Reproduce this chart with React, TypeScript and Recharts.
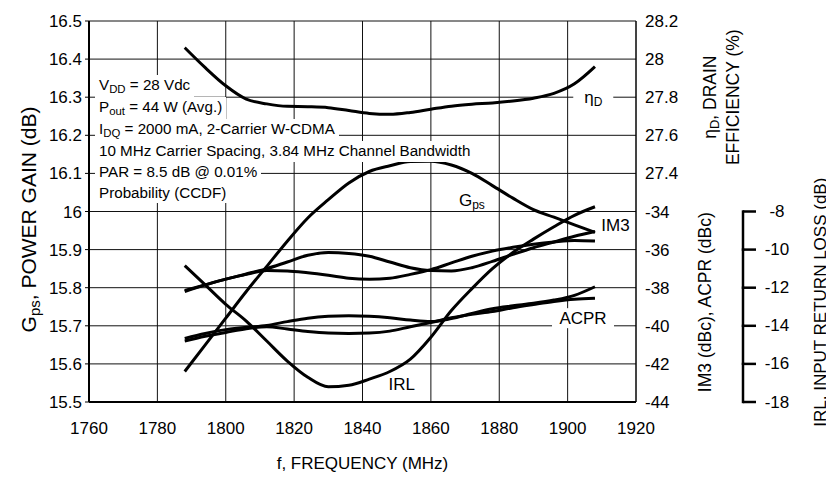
import React from 'react';
import { ComposedChart, Line, XAxis, YAxis, CartesianGrid, ReferenceDot } from 'recharts';

// frequency points (MHz) shared by every measured curve
const frequency = [1788, 1794, 1800, 1806, 1812, 1818, 1824, 1830, 1836, 1842, 1848, 1854, 1860, 1866, 1872, 1878, 1884, 1890, 1896, 1902, 1908];

// Gps, power gain (dB) - left axis
const powerGain = [15.58, 15.65, 15.72, 15.79, 15.856, 15.922, 15.983, 16.031, 16.075, 16.105, 16.12, 16.131, 16.132, 16.122, 16.1, 16.068, 16.035, 16.005, 15.985, 15.965, 15.945];
// ηD, drain efficiency (%)
const drainEfficiency = [28.06, 27.955, 27.86, 27.79, 27.765, 27.752, 27.75, 27.745, 27.73, 27.715, 27.71, 27.72, 27.737, 27.753, 27.763, 27.77, 27.78, 27.795, 27.82, 27.87, 27.96];
// IM3 (dBc), two sidebands
const im3Upper = [-38.15, -37.85, -37.55, -37.28, -37.0, -36.65, -36.3, -36.15, -36.2, -36.35, -36.65, -36.95, -37.1, -37.12, -36.95, -36.62, -36.25, -35.9, -35.6, -35.3, -35.05];
const im3Lower = [-38.2, -37.85, -37.55, -37.3, -37.1, -37.12, -37.22, -37.35, -37.5, -37.55, -37.5, -37.3, -37.05, -36.7, -36.35, -36.08, -35.88, -35.72, -35.6, -35.52, -35.55];
// ACPR (dBc), two sidebands
const acprUpper = [-40.66, -40.4, -40.2, -40.08, -39.98, -39.78, -39.6, -39.5, -39.47, -39.5, -39.58, -39.7, -39.78, -39.62, -39.35, -39.1, -38.95, -38.82, -38.65, -38.4, -37.95];
const acprLower = [-40.8, -40.55, -40.35, -40.15, -40.05, -40.17, -40.3, -40.38, -40.4, -40.38, -40.28, -40.05, -39.83, -39.58, -39.4, -39.25, -39.05, -38.88, -38.72, -38.6, -38.55];
// IRL, input return loss (dB)
const inputReturnLoss = [-10.84, -11.85, -12.87, -13.75, -14.8, -15.85, -16.7, -17.2, -17.12, -16.8, -16.4, -15.75, -14.6, -13.2, -12.05, -11.0, -10.15, -9.45, -8.8, -8.2, -7.75];

const freqTicks = [1760, 1780, 1800, 1820, 1840, 1860, 1880, 1900, 1920];
const gainTicks = [15.5, 15.6, 15.7, 15.8, 15.9, 16, 16.1, 16.2, 16.3, 16.4, 16.5];
// right scale: lower half IM3/ACPR (dBc), upper half drain efficiency (%)
const effTicks = [26.2, 26.4, 26.6, 26.8, 27, 27.2, 27.4, 27.6, 27.8, 28, 28.2];
const rightTickLabels = ['-44', '-42', '-40', '-38', '-36', '-34', '27.4', '27.6', '27.8', '28', '28.2'];
const irlTicks = [-18, -16, -14, -12, -10, -8];

const conditionLines = [
  ['V', 'DD', ' = 28 Vdc'],
  ['P', 'out', ' = 44 W (Avg.)'],
  ['I', 'DQ', ' = 2000 mA, 2-Carrier W-CDMA'],
  ['10 MHz Carrier Spacing, 3.84 MHz Channel Bandwidth', '', ''],
  ['PAR = 8.5 dB @ 0.01%', '', ''],
  ['Probability (CCDF)', '', ''],
];

// curve name tags, placed in frequency / gain-axis units
const seriesTags = [
  { text: '\u03b7', sub: 'D', f: 1907.5, v: 16.3, box: 40 },
  { text: 'G', sub: 'ps', f: 1872, v: 16.03, box: 0 },
  { text: 'IM3', sub: '', f: 1914, v: 15.963, box: 0 },
  { text: 'ACPR', sub: '', f: 1904.5, v: 15.72, box: 62 },
  { text: 'IRL', sub: '', f: 1851.5, v: 15.545, box: 0 },
];

const W = 826;
const H = 470;
const MARGIN = { top: 13, right: 0, bottom: 0, left: 11 };
const X_AXIS_H = 76;
const PLOT_H = H - MARGIN.top - MARGIN.bottom - X_AXIS_H;
const FONT = '"Liberation Sans", Arial, Helvetica, sans-serif';
const INK = '#000';

const Tag = ({ cx, cy, tag }: any) => (
  <g>
    {tag.box > 0 && <rect x={cx - tag.box / 2} y={cy - 10} width={tag.box} height={20} fill="#fff" />}
    <text x={cx} y={cy} textAnchor="middle" dominantBaseline="central" fontSize={17} fill={INK}>
      {tag.text}
      {tag.sub && (
        <tspan fontSize={12} dy={5}>
          {tag.sub}
        </tspan>
      )}
    </text>
  </g>
);

const IrlTick = (props: any) => {
  const { x, y, payload } = props;
  const step = (PLOT_H * 2) / 20;
  return (
    <g>
      <line x1={x} y1={y} x2={x + 13} y2={y} stroke={INK} strokeWidth={2.5} />
      {payload.value < -8 && <line x1={x} y1={y + 1.2} x2={x} y2={y - step - 1.2} stroke={INK} strokeWidth={2.5} />}
      <text x={x + 34} y={y} textAnchor="middle" dominantBaseline="central" fontSize={17} fill={INK}>
        {payload.value}
      </text>
    </g>
  );
};

const xTitle = (props: any) => {
  const vb = props.viewBox;
  return (
    <text x={vb.x + vb.width / 2} y={vb.y + 61} textAnchor="middle" dominantBaseline="central" fontSize={17} fill={INK}>
      f, FREQUENCY (MHz)
    </text>
  );
};

const leftTitle = (props: any) => {
  const vb = props.viewBox;
  const cx = vb.x + 9;
  const cy = vb.y + vb.height / 2 + 8;
  return (
    <text x={cx} y={cy} transform={`rotate(-90 ${cx} ${cy})`} textAnchor="middle" dominantBaseline="central" fontSize={21} fill={INK}>
      G
      <tspan fontSize={15} dy={6}>
        ps
      </tspan>
      <tspan dy={-6}>, POWER GAIN (dB)</tspan>
    </text>
  );
};

const rightTitle = (props: any) => {
  const vb = props.viewBox;
  const y1 = vb.y + vb.height * 0.2;
  const y2 = vb.y + vb.height * 0.738;
  const a = vb.x + 74;
  const b = vb.x + 97;
  const c = vb.x + 69;
  return (
    <g fontSize={17.5} fill={INK}>
      <text x={a} y={y1} transform={`rotate(-90 ${a} ${y1})`} textAnchor="middle" dominantBaseline="central">
        {'\u03b7'}
        <tspan fontSize={13} dy={4}>
          D
        </tspan>
        <tspan dy={-4}>, DRAIN</tspan>
      </text>
      <text x={b} y={y1} transform={`rotate(-90 ${b} ${y1})`} textAnchor="middle" dominantBaseline="central">
        EFFICIENCY (%)
      </text>
      <text x={c} y={y2} transform={`rotate(-90 ${c} ${y2})`} textAnchor="middle" dominantBaseline="central">
        IM3 (dBc), ACPR (dBc)
      </text>
    </g>
  );
};

const irlTitle = (props: any) => {
  const vb = props.viewBox;
  const cx = vb.x + 78;
  const cy = vb.y + vb.height * 0.738;
  return (
    <text x={cx} y={cy} transform={`rotate(-90 ${cx} ${cy})`} textAnchor="middle" dominantBaseline="central" fontSize={17} fill={INK}>
      IRL, INPUT RETURN LOSS (dB)
    </text>
  );
};

const rightLabel = (v: number) => rightTickLabels[effTicks.findIndex((t) => Math.abs(t - v) < 1e-6)] ?? '';

export default function App() {
  const rows = frequency.map((f, i) => ({
    f,
    gain: powerGain[i],
    eff: drainEfficiency[i],
    im3a: im3Upper[i],
    im3b: im3Lower[i],
    acpra: acprUpper[i],
    acprb: acprLower[i],
    irl: inputReturnLoss[i],
  }));

  // r1 = efficiency scale carrying all right tick labels, r2 = IRL scale, s2 = hidden dBc scale
  const curves = [
    { key: 'gain', axis: 'gain' },
    { key: 'eff', axis: 'r1' },
    { key: 'im3a', axis: 's2' },
    { key: 'im3b', axis: 's2' },
    { key: 'acpra', axis: 's2' },
    { key: 'acprb', axis: 's2' },
    { key: 'irl', axis: 'r2' },
  ];

  return (
    <div style={{ position: 'relative', width: W, height: H, fontFamily: FONT }}>
      <ComposedChart width={W} height={H} data={rows} margin={MARGIN}>
        <CartesianGrid xAxisId="f" yAxisId="gain" stroke="#111" strokeWidth={1} />
        <XAxis
          xAxisId="f"
          dataKey="f"
          type="number"
          domain={[1760, 1920]}
          ticks={freqTicks}
          interval={0}
          height={X_AXIS_H}
          tickLine={false}
          tickSize={0}
          tickMargin={20}
          axisLine={{ stroke: INK, strokeWidth: 2 }}
          tick={{ fill: INK, fontSize: 17 }}
          label={xTitle}
        />
        <YAxis
          yAxisId="gain"
          domain={[15.5, 16.5]}
          ticks={gainTicks}
          interval={0}
          width={70}
          tickSize={4}
          tickMargin={3}
          tickLine={{ stroke: INK }}
          axisLine={{ stroke: INK, strokeWidth: 2 }}
          tick={{ fill: INK, fontSize: 17 }}
          label={leftTitle}
        />
        <YAxis
          yAxisId="r1"
          orientation="right"
          type="number"
          domain={[26.2, 28.2]}
          ticks={effTicks}
          interval={0}
          allowDataOverflow
          tickFormatter={rightLabel}
          width={107}
          tickSize={0}
          tickMargin={9}
          tickLine={false}
          axisLine={{ stroke: INK, strokeWidth: 1 }}
          tick={{ fill: INK, fontSize: 17 }}
          label={rightTitle}
        />
        <YAxis
          yAxisId="r2"
          orientation="right"
          domain={[-18, 2]}
          ticks={irlTicks}
          interval={0}
          width={91}
          tickSize={0}
          tickMargin={0}
          tickLine={false}
          axisLine={false}
          tick={<IrlTick />}
          label={irlTitle}
        />
        <YAxis yAxisId="s2" orientation="right" hide width={0} domain={[-44, -24]} />
        {curves.map((c) => (
          <Line
            key={c.key}
            xAxisId="f"
            yAxisId={c.axis}
            dataKey={c.key}
            type="monotone"
            stroke={INK}
            strokeWidth={3}
            dot={false}
            activeDot={false}
            isAnimationActive={false}
          />
        ))}
        {seriesTags.map((t) => (
          <ReferenceDot
            key={t.text + t.sub}
            xAxisId="f"
            yAxisId="gain"
            x={t.f}
            y={t.v}
            r={1}
            ifOverflow="visible"
            shape={(p: any) => <Tag cx={p.cx} cy={p.cy} tag={t} />}
          />
        ))}
      </ComposedChart>
      <div style={{ position: 'absolute', left: 87, top: 67, fontSize: 15.2, lineHeight: '20.9px', color: INK }}>
        {conditionLines.map((l, i) => (
          <div key={i} style={{ width: 'fit-content', background: '#fff', padding: '0 4px' }}>
            {l[0]}
            {l[1] && <span style={{ fontSize: '0.75em', position: 'relative', top: '0.3em' }}>{l[1]}</span>}
            {l[2]}
          </div>
        ))}
      </div>
    </div>
  );
}
